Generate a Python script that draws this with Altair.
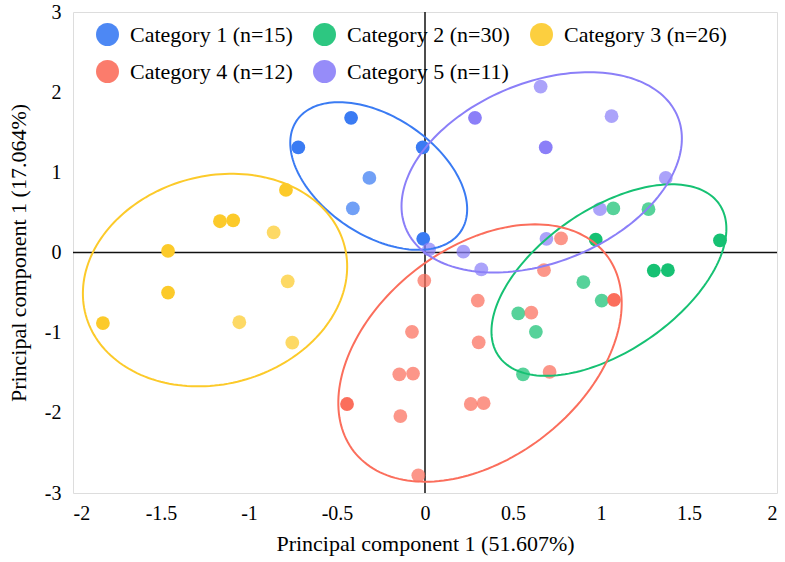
import altair as alt
import numpy as np
import pandas as pd

# ---------------- data ----------------
categories = ["Category 1 (n=15)", "Category 2 (n=30)", "Category 3 (n=26)",
              "Category 4 (n=12)", "Category 5 (n=11)"]
colors = ["#3a7bf3", "#16c173", "#fcca2a", "#fb6e5c", "#8b7ff8"]

cat1_x = [-0.42, -0.72, -0.013, -0.316, -0.41, -0.01]
cat1_y = [1.68, 1.31, 1.31, 0.93, 0.55, 0.17]
cat1_dark = [1, 1, 1, 0, 0, 1]

cat2_x = [1.07, 1.27, 0.97, 1.676, 1.30, 1.38, 0.90, 1.004, 0.53, 0.63, 0.557]
cat2_y = [0.55, 0.54, 0.16, 0.15, -0.225, -0.22, -0.37, -0.60, -0.76, -0.99, -1.52]
cat2_dark = [0, 0, 1, 1, 1, 1, 0, 0, 0, 0, 0]

cat3_x = [-0.79, -1.165, -1.09, -0.86, -1.46, -0.78, -1.46, -1.83, -1.055, -0.754]
cat3_y = [0.78, 0.39, 0.40, 0.25, 0.02, -0.36, -0.50, -0.88, -0.87, -1.125]
cat3_dark = [1, 1, 1, 0, 1, 0, 1, 1, 0, 0]

cat4_x = [0.773, 0.676, -0.004, 0.30, 1.074, 0.604, -0.074, 0.305, -0.146, -0.068,
          0.708, -0.443, 0.26, 0.333, -0.14, -0.038]
cat4_y = [0.175, -0.22, -0.35, -0.60, -0.59, -0.75, -0.99, -1.12, -1.52, -1.51,
          -1.49, -1.89, -1.89, -1.88, -2.04, -2.78]
cat4_dark = [0, 0, 0, 0, 1, 0, 0, 0, 0, 0, 0, 1, 0, 0, 0, 0]

cat5_x = [0.657, 0.284, 1.06, 0.686, 1.368, 0.994, 0.69, 0.218, 0.32, 0.023]
cat5_y = [2.07, 1.68, 1.70, 1.31, 0.93, 0.54, 0.17, 0.01, -0.21, 0.04]
cat5_dark = [0, 1, 0, 1, 0, 0, 0, 0, 0, 0]

# confidence ellipses: centre (data), semi-axes (in x-axis units), tilt (deg)
ell_cx = [-0.263, 1.045, -1.193, 0.3125, 0.663]
ell_cy = [0.954, -0.344, -0.344, -1.254, 1.0]
ell_a = [0.5625, 0.761, 0.761, 0.909, 0.835]
ell_b = [0.335, 0.403, 0.591, 0.597, 0.511]
ell_angle = [-34, 34.5, 15, 38, 22.3]

x_ticks = [-2, -1.5, -1, -0.5, 0, 0.5, 1, 1.5, 2]
y_ticks = [-3, -2, -1, 0, 1, 2, 3]
X_DOM = [-2, 2]
Y_DOM = [-3, 3]

# ---------------- build tables ----------------
W, H = 704, 481

xs = [cat1_x, cat2_x, cat3_x, cat4_x, cat5_x]
ys = [cat1_y, cat2_y, cat3_y, cat4_y, cat5_y]
ds = [cat1_dark, cat2_dark, cat3_dark, cat4_dark, cat5_dark]
rows = []
for c, xv, yv, dv in zip(categories, xs, ys, ds):
    for a, b, d in zip(xv, yv, dv):
        rows.append({"cat": c, "x": a, "y": b, "dark": d})
pts = pd.DataFrame(rows)

# ratio of pixels per unit on x vs y so tilted ellipses look right on screen
k = (W / (X_DOM[1] - X_DOM[0])) / (H / (Y_DOM[1] - Y_DOM[0]))
t = np.linspace(0, 2 * np.pi, 181)
erows = []
for c, cx, cy, a, b, ang in zip(categories, ell_cx, ell_cy, ell_a, ell_b, ell_angle):
    th = np.radians(ang)
    ex = cx + a * np.cos(t) * np.cos(th) - b * np.sin(t) * np.sin(th)
    ey = cy + k * (a * np.cos(t) * np.sin(th) + b * np.sin(t) * np.cos(th))
    for i, (u, v) in enumerate(zip(ex, ey)):
        erows.append({"cat": c, "x": float(u), "y": float(v), "i": i})
ell = pd.DataFrame(erows)

color_scale = alt.Scale(domain=categories, range=colors)
xscale = alt.Scale(domain=X_DOM, nice=False, zero=False)
yscale = alt.Scale(domain=Y_DOM, nice=False, zero=False)

x_axis = alt.Axis(values=x_ticks, labelExpr="datum.value + ''", grid=False, ticks=False,
                  domain=False, labelFontSize=20, labelColor="black",
                  labelPadding=10, title="Principal component 1 (51.607%)",
                  titleFontSize=22, titleFontWeight="normal",
                  titleColor="black", titlePadding=10)
y_axis = alt.Axis(values=y_ticks, labelExpr="datum.value + ''", grid=False, ticks=False,
                  domain=False, labelFontSize=20, labelColor="black",
                  labelPadding=12, title="Principal component 1 (17.064%)",
                  titleFontSize=22, titleFontWeight="normal",
                  titleColor="black", titlePadding=14)

legend = alt.Legend(orient="none", legendX=23, legendY=11, direction="horizontal",
                    columns=3, title=None, symbolType="circle", symbolSize=529,
                    symbolOpacity=0.9, symbolStrokeWidth=0,
                    labelFontSize=22, labelColor="black", labelOffset=11,
                    columnPadding=20, rowPadding=14, padding=0, labelLimit=0)

vrule = alt.Chart(pd.DataFrame({"v": [0]})).mark_rule(color="#111", strokeWidth=1.5).encode(
    x=alt.X("v:Q", scale=xscale, axis=x_axis))
hrule = alt.Chart(pd.DataFrame({"v": [0]})).mark_rule(color="#111", strokeWidth=1.5).encode(
    y=alt.Y("v:Q", scale=yscale, axis=y_axis))

points = alt.Chart(pts).mark_circle(size=190).encode(
    x=alt.X("x:Q", scale=xscale, axis=x_axis),
    y=alt.Y("y:Q", scale=yscale, axis=y_axis),
    color=alt.Color("cat:N", scale=color_scale, legend=legend),
    opacity=alt.Opacity("dark:O", scale=alt.Scale(domain=[0, 1], range=[0.72, 1.0]), legend=None),
)

ellipses = alt.Chart(ell).mark_line(strokeWidth=2).encode(
    x=alt.X("x:Q", scale=xscale, axis=x_axis),
    y=alt.Y("y:Q", scale=yscale, axis=y_axis),
    color=alt.Color("cat:N", scale=color_scale, legend=None),
    detail="cat:N",
    order="i:Q",
)

chart = alt.layer(vrule, hrule, points, ellipses).properties(
    width=W, height=H,
    autosize=alt.AutoSizeParams(type="none"),
    padding={"left": 73, "top": 12, "right": 8, "bottom": 69},
    background="white",
).configure_view(
    stroke="#222", strokeWidth=1.2
).configure(font="Liberation Serif")

chart.save("out.html", embed_options={"renderer": "svg", "actions": False})
